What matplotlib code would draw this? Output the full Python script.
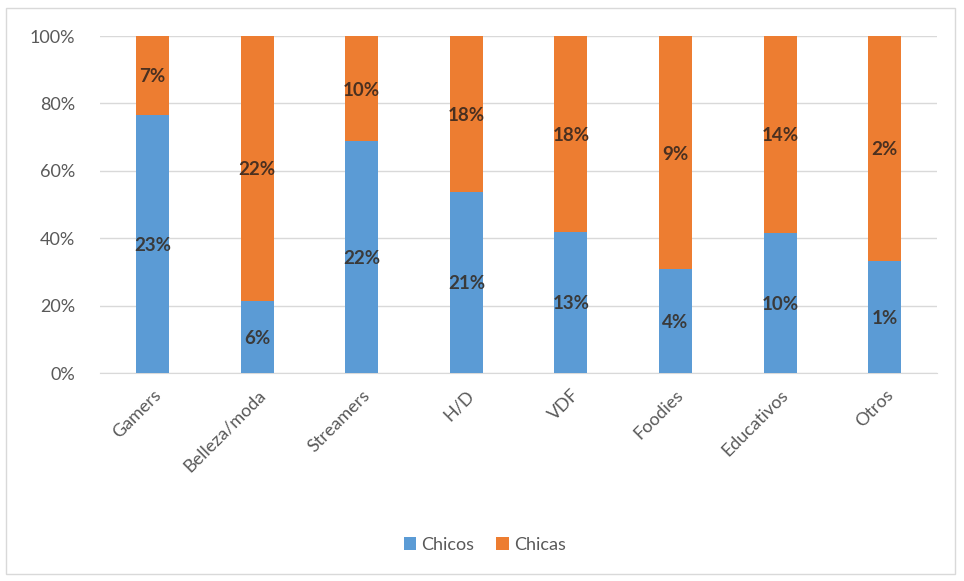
import matplotlib.pyplot as plt
import numpy as np
from matplotlib.patches import Rectangle

categories = ["Gamers", "Belleza/moda", "Streamers", "H/D", "VDF", "Foodies", "Educativos", "Otros"]
chicos = [23, 6, 22, 21, 13, 4, 10, 1]
chicas = [7, 22, 10, 18, 18, 9, 14, 2]
y_ticks = [0, 20, 40, 60, 80, 100]

plt.rcParams['font.family'] = ['Lato', 'DejaVu Sans']

chicos_arr = np.array(chicos, dtype=float)
chicas_arr = np.array(chicas, dtype=float)
total = chicos_arr + chicas_arr
p_chicos = chicos_arr / total * 100
p_chicas = chicas_arr / total * 100

fig = plt.figure(figsize=(9.64, 5.81), dpi=100)
ax = fig.add_axes([0.104, 0.358, 0.868, 0.580])

x = np.arange(len(categories))
w = 0.315
blue = '#5B9BD5'
orange = '#ED7D31'
ax.bar(x, p_chicos, w, color=blue, label='Chicos', zorder=3)
ax.bar(x, p_chicas, w, bottom=p_chicos, color=orange, label='Chicas', zorder=3)

# etiquetas con el valor original, centradas en cada tramo
for i in range(len(categories)):
    ax.text(x[i], p_chicos[i] / 2, f"{chicos[i]}%", ha='center', va='center_baseline',
            fontsize=13.5, fontweight='bold', color='#3a3a3a', zorder=4)
    ax.text(x[i], p_chicos[i] + p_chicas[i] / 2, f"{chicas[i]}%", ha='center',
            va='center_baseline', fontsize=13.5, fontweight='bold', color='#4a3020', zorder=4)

ax.set_xlim(-0.5, len(categories) - 0.5)
ax.set_ylim(0, 100)
ax.set_yticks(y_ticks)
ax.set_yticklabels([f"{v}%" for v in y_ticks])
ax.set_xticks(x)
ax.set_xticklabels(categories, rotation=45, ha='right', rotation_mode='anchor')
ax.tick_params(axis='both', length=0, labelsize=13, colors='#595959')
ax.tick_params(axis='y', pad=18)
ax.tick_params(axis='x', pad=10)
ax.grid(axis='y', color='#d9d9d9', linewidth=1, zorder=0)
for s in ['top', 'right', 'left']:
    ax.spines[s].set_visible(False)
ax.spines['bottom'].set_color('#d9d9d9')

fig.legend(loc='center', bbox_to_anchor=(0.503, 0.062), ncol=2, frameon=False,
           fontsize=13, handlelength=0.7, handleheight=0.7, handletextpad=0.3,
           columnspacing=1.2, labelcolor='#595959')

fig.patches.append(Rectangle((0.006, 0.012), 0.985, 0.975, transform=fig.transFigure,
                             fill=False, edgecolor='#d9d9d9', linewidth=1))

fig.savefig('out.png', dpi=100)
